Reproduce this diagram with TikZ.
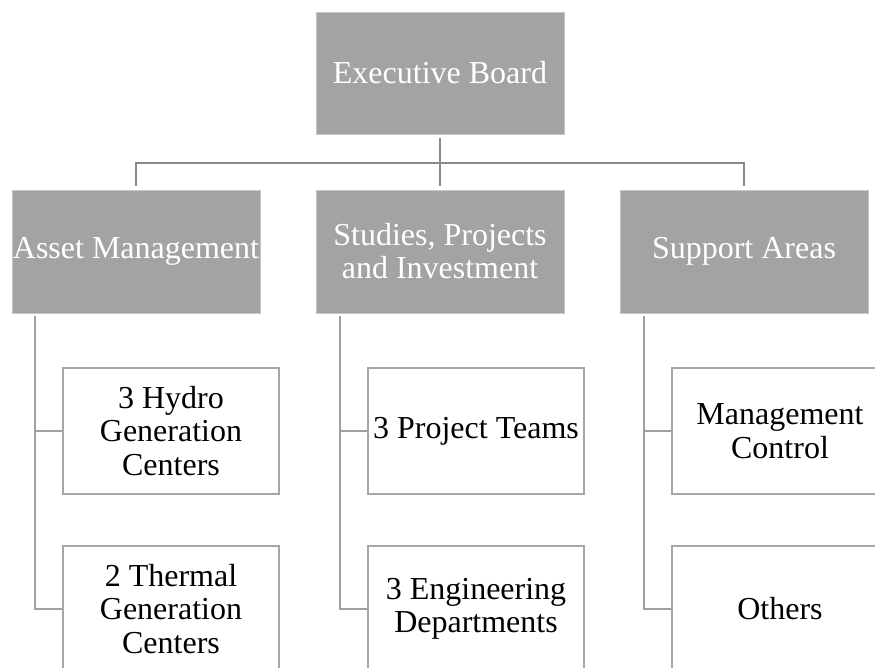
\documentclass[tikz,border=0pt]{standalone}
\usepackage{fontspec}
\setmainfont{Liberation Serif}
\usetikzlibrary{calc}
\definecolor{boxgray}{HTML}{A3A3A3}
\definecolor{edgegray}{HTML}{C4C4C4}
\definecolor{framegray}{HTML}{A6A6A6}
\definecolor{bargray}{HTML}{8A8A8A}
\definecolor{stemgray}{HTML}{A0A0A0}
\tikzset{
  headbox/.style={draw=edgegray, line width=0.8pt, fill=boxgray, text=white,
    minimum width=248pt, minimum height=123pt, inner sep=0pt, align=center,
    font=\fontsize{32}{33}\selectfont},
  unitbox/.style={draw=framegray, line width=1.6pt, fill=white, text=black,
    minimum width=216pt, minimum height=126pt, inner sep=0pt, align=center,
    font=\fontsize{32}{33.5}\selectfont},
  bar/.style={draw=bargray, line width=1.8pt},
  stem/.style={draw=stemgray, line width=1.8pt},
}
\begin{document}
\begin{tikzpicture}[x=1pt, y=-1pt]
\useasboundingbox (0,0) rectangle (875,668);
\clip (0,0) rectangle (875,668);
\fill[white] (0,0) rectangle (875,668);

% top level
\node[headbox, minimum height=122pt] (exec) at (440,73) {Executive Board};

% second level
\node[headbox] (asset) at (136,251.5) {Asset Management};
\node[headbox] (study) at (440,251.5) {Studies, Projects\\and Investment};
\node[headbox] (supp)  at (744,251.5) {Support Areas};

% units
\node[unitbox] (hydro)   at (171,431) {3 Hydro\\Generation\\Centers};
\node[unitbox] (thermal) at (171,609) {2 Thermal\\Generation\\Centers};
\node[unitbox] (teams)   at (476,431) {3 Project Teams};
\node[unitbox] (eng)     at (476,609) {3 Engineering\\Departments};
\node[unitbox] (mgmt)    at (780,431) {Management\\Control};
\node[unitbox] (others)  at (780,609) {Others};

% bus from the board to the second level
\coordinate (bus) at (0,163);
\draw[bar] ([yshift=-4pt]exec.south) -- ([yshift=4pt]study.north);
\draw[bar] ([yshift=4pt]asset.north) |- (bus -| supp.north) -- ([yshift=4pt]supp.north);

% stems to the units
\draw[stem] ([xshift=23pt,yshift=-3pt]asset.south west) |- (hydro.west);
\draw[stem] ([xshift=23pt,yshift=-3pt]asset.south west) |- (thermal.west);
\draw[stem] ([xshift=24pt,yshift=-3pt]study.south west) |- (teams.west);
\draw[stem] ([xshift=24pt,yshift=-3pt]study.south west) |- (eng.west);
\draw[stem] ([xshift=24pt,yshift=-3pt]supp.south west) |- (mgmt.west);
\draw[stem] ([xshift=24pt,yshift=-3pt]supp.south west) |- (others.west);
\end{tikzpicture}
\end{document}
